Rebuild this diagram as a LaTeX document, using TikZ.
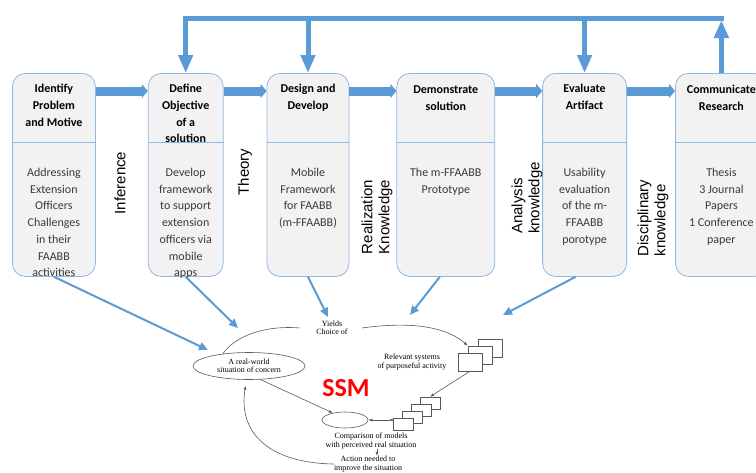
\documentclass[tikz,border=0pt]{standalone}
\usepackage{fontspec}
\usetikzlibrary{positioning,shapes.geometric,arrows.meta}
\newfontfamily\boxfont{Carlito}
\newfontfamily\knowfont{Liberation Sans}
\newfontfamily\ssmfont{Liberation Serif}
\definecolor{dsrblue}{HTML}{5B9BD5}
\definecolor{stageline}{HTML}{92B8E0}
\definecolor{stagefill}{HTML}{F2F2F2}
\definecolor{bodygray}{HTML}{3A3A3A}
\definecolor{ssmgray}{HTML}{595959}
\tikzset{>=stealth,
  stage/.style={draw=stageline, fill=stagefill, rounded corners=13pt,
    minimum height=203pt, inner sep=0pt, line width=0.8pt},
  stagetitle/.style={inner sep=0pt, align=center,
    font=\boxfont\bfseries\fontsize{12}{16.7}\selectfont},
  stagebody/.style={inner sep=0pt, align=center, text=bodygray,
    font=\boxfont\fontsize{12}{16.7}\selectfont},
  know/.style={rotate=90, align=left, inner sep=0pt,
    font=\knowfont\fontsize{15}{17}\selectfont},
  flow/.style={dsrblue, line width=9pt, -{Triangle[length=6pt,width=14pt]}},
  feedback/.style={dsrblue, line width=5pt},
  link/.style={dsrblue, line width=2pt, -{Triangle[length=9pt,width=8pt]}},
  ssmtext/.style={inner sep=0pt, align=center,
    font=\ssmfont\fontsize{8}{8.5}\selectfont},
  ssmline/.style={ssmgray, line width=0.6pt},
  ssmarrow/.style={ssmline, -{Latex[length=4pt,width=3pt]}},
  sheet/.style={draw=ssmgray, fill=white, line width=0.6pt, inner sep=0pt},
}
\begin{document}
\begin{tikzpicture}[x=1pt,y=-1pt]
  \useasboundingbox (0,0) rectangle (756,472);

  % the six stages
  \node[stage, minimum width=83pt, anchor=north west] (identify) at (12,73) {};
  \node[stage, minimum width=75pt, right=52pt of identify] (define) {};
  \node[stage, minimum width=82pt, right=43pt of define] (design) {};
  \node[stage, minimum width=98pt, right=47pt of design] (demonstrate) {};
  \node[stage, minimum width=84pt, right=47pt of demonstrate] (evaluate) {};
  \node[stage, minimum width=92pt, right=48pt of evaluate] (communicate) {};

  \foreach \s in {identify,define,design,demonstrate,evaluate,communicate}
    \draw[stageline, line width=0.8pt] ([yshift=-69pt]\s.north west) -- ([yshift=-69pt]\s.north east);

  \node[stagetitle, below=11pt of identify.north] (identify-t) {Identify\\Problem\\and Motive};
  \node[stagetitle, below=11pt of define.north] (define-t) {Define\\Objective\\of a\\solution};
  \node[stagetitle, below=11pt of design.north] (design-t) {Design and\\Develop};
  \node[stagetitle, below=13pt of demonstrate.north] (demonstrate-t) {Demonstrate\\solution};
  \node[stagetitle, below=11pt of evaluate.north] (evaluate-t) {Evaluate\\Artifact};
  \node[stagetitle, below=12pt of communicate.north] (communicate-t) {Communicate\\Research};

  \node[stagebody, below=95pt of identify.north] (identify-b)
    {Addressing\\Extension\\Officers\\Challenges\\in their\\FAABB\\activities};
  \node[stagebody, below=95pt of define.north] (define-b)
    {Develop\\framework\\to support\\extension\\officers via\\mobile\\apps};
  \node[stagebody, below=95pt of design.north] (design-b)
    {Mobile\\Framework\\for FAABB\\(m-FFAABB)};
  \node[stagebody, below=95pt of demonstrate.north] (demonstrate-b)
    {The m-FFAABB\\Prototype};
  \node[stagebody, below=95pt of evaluate.north] (evaluate-b)
    {Usability\\evaluation\\of the m-\\FFAABB\\porotype};
  \node[stagebody, below=95pt of communicate.north] (communicate-b)
    {Thesis\\3 Journal\\Papers\\1 Conference\\paper};

  % knowledge between stages
  \node[know] (inference) at (120,183) {Inference};
  \node[know] (theory) at (245,172) {Theory};
  \node[know] (realization) at (377,217) {Realization\\Knowledge};
  \node[know] (analysis) at (527,198) {Analysis\\knowledge};
  \node[know] (disciplinary) at (653,218) {Disciplinary\\knowledge};

  \foreach \a/\b in {identify/define,define/design,design/demonstrate,demonstrate/evaluate,evaluate/communicate}
    \draw[flow] ([yshift=-18pt]\a.north east) -- ([yshift=-18pt]\b.north west);

  % feedback loop on top
  \coordinate (loop) at (0,18);
  \draw[feedback, line cap=rect] (communicate.north |- loop) -- (define.north |- loop);
  \draw[feedback, -{Triangle[length=18pt,width=14pt]}] (communicate.north) -- ([yshift=-2pt]communicate.north |- loop);
  \foreach \s in {define,design,evaluate}
    \draw[feedback, -{Triangle[length=18pt,width=14pt]}] (\s.north |- loop) -- (\s.north);

  % SSM
  \node[draw=ssmgray, line width=0.6pt, ellipse, minimum width=112pt, minimum height=27pt,
    inner sep=0pt, ssmtext] (world) at (249,366) {A real-world\\situation of concern};
  \node[ssmtext] (yields) at (332,328) {Yields\\Choice of};
  \node[ssmtext] (systems-t) at (412,362) {Relevant systems\\of purposeful activity};
  \node[sheet, minimum width=24pt, minimum height=18pt] (sys3) at (490,348) {};
  \node[sheet, minimum width=24pt, minimum height=18pt] (sys2) at (480,355) {};
  \node[sheet, minimum width=24pt, minimum height=18pt] (sys1) at (470,362) {};
  \node[sheet, minimum width=20pt, minimum height=12pt] (mod4) at (430,403) {};
  \node[sheet, minimum width=20pt, minimum height=12pt] (mod3) at (421,410) {};
  \node[sheet, minimum width=20pt, minimum height=12pt] (mod2) at (412,417) {};
  \node[sheet, minimum width=20pt, minimum height=12pt] (mod1) at (403,424) {};
  \node[draw=ssmgray, line width=0.6pt, ellipse, minimum width=46pt, minimum height=16pt] (compare) at (345,420) {};
  \node[ssmtext] (compare-t) at (371,441) {Comparison of models\\with perceived real situation};
  \node[ssmtext] (action) at (368,464) {Action needed to\\improve the situation};
  \node[text=red, inner sep=0pt, font=\boxfont\bfseries\fontsize{26}{28}\selectfont] (ssm) at (346,388) {SSM};

  \draw[ssmline] (world.155) .. controls (235,336) and (265,325) .. ([xshift=-16pt]yields.west);
  \draw[ssmarrow] ([xshift=14pt]yields.east) .. controls (420,320) and (450,330) .. (sys2.north west);
  \draw[ssmarrow] (sys1.south) -- (mod4.north);
  \draw[ssmarrow] (world.310) -- (compare.150);
  \draw[ssmline, {Latex[length=4pt,width=3pt]}-{Latex[length=4pt,width=3pt,reversed]}] (compare.east) -- (compare.east -| mod1.west);
  \draw[ssmarrow] ([xshift=6pt]compare-t.south) -- ([xshift=6pt]compare-t.south |- action.north);
  \draw[ssmarrow, shorten >=6pt] (action.west) .. controls (268,463) and (238,432) .. (world.260);

  % into SSM
  \coordinate (in1) at (208,350);
  \coordinate (in2) at (238,328);
  \coordinate (in3) at (328,317);
  \coordinate (in4) at (410,315);
  \coordinate (in5) at (503,315);
  \draw[link] (identify.south) -- (in1);
  \draw[link] (define.south) -- (in2);
  \draw[link] (design.south) -- (in3);
  \draw[link] ([xshift=-6pt]demonstrate.south) -- (in4);
  \draw[link] ([xshift=-9pt]evaluate.south) -- (in5);
\end{tikzpicture}
\end{document}
